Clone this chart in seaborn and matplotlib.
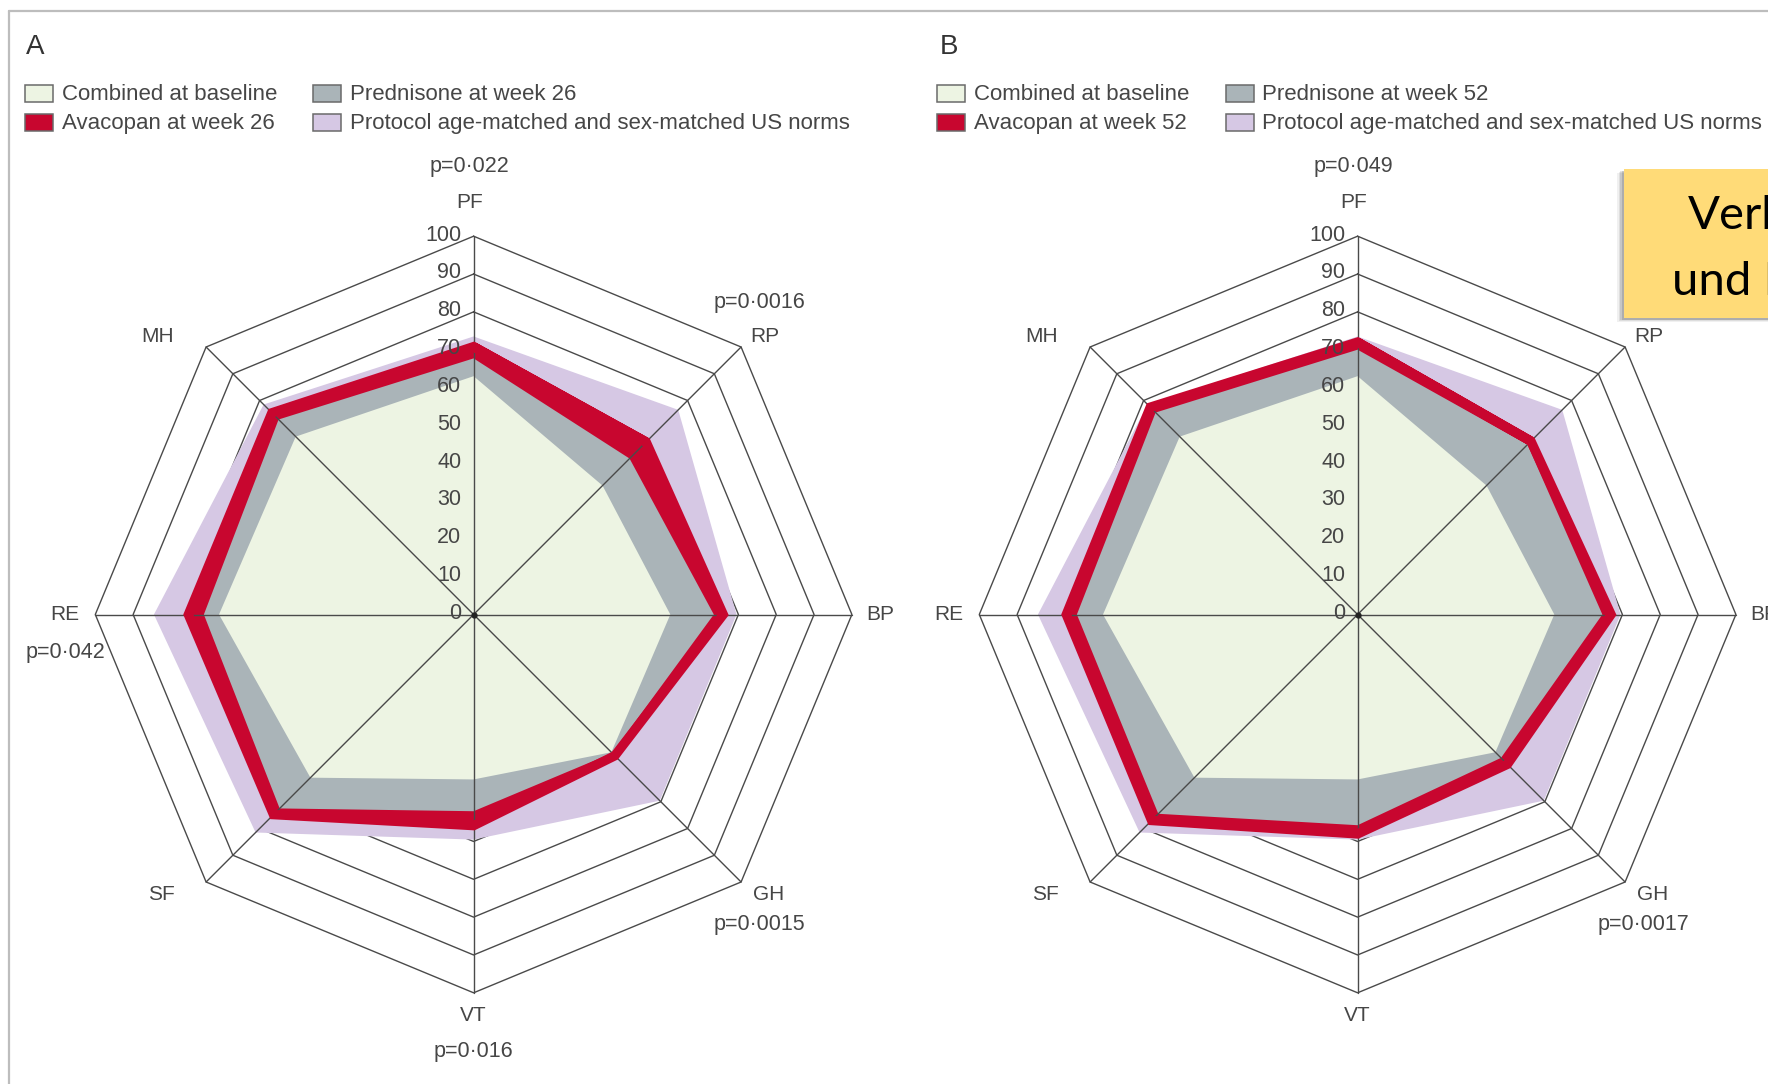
import numpy as np
import pandas as pd
import matplotlib
matplotlib.use("Agg")
import matplotlib.pyplot as plt
from matplotlib import font_manager
from matplotlib.patches import Rectangle
import seaborn as sns

# SF-36 domains, clockwise from the top
domains = ["PF", "RP", "BP", "GH", "VT", "SF", "RE", "MH"]
tick_values = [0, 10, 20, 30, 40, 50, 60, 70, 80, 90, 100]

# Domain scores (0-100)
baseline_combined = [63.0, 48.2, 52.0, 51.5, 43.6, 61.0, 67.3, 66.5]
us_norms = [73.5, 76.5, 69.5, 69.6, 59.5, 81.5, 84.5, 78.5]
avacopan_wk26 = [70.8, 64.5, 66.0, 52.8, 55.8, 74.8, 75.4, 75.4]
prednisone_wk26 = [67.7, 58.3, 63.5, 51.8, 52.0, 72.5, 71.3, 72.9]
avacopan_wk52 = [72.0, 64.8, 67.0, 56.0, 58.0, 77.0, 77.0, 77.5]
prednisone_wk52 = [70.0, 63.5, 64.7, 53.6, 55.7, 74.5, 74.2, 75.5]

pvalues_wk26 = {"PF": "p=0·022", "RP": "p=0·0016", "GH": "p=0·0015",
                "VT": "p=0·016", "RE": "p=0·042"}
pvalues_wk52 = {"PF": "p=0·049", "GH": "p=0·0017"}

panels = [
    dict(letter="A", week="26", avacopan=avacopan_wk26,
         prednisone=prednisone_wk26, pvalues=pvalues_wk26),
    dict(letter="B", week="52", avacopan=avacopan_wk52,
         prednisone=prednisone_wk52, pvalues=pvalues_wk52),
]

# ---------------------------------------------------------------- style
sns.set_theme(style="white")
available = {f.name for f in font_manager.fontManager.ttflist}
main_font = "Liberation Sans Narrow" if "Liberation Sans Narrow" in available else "Liberation Sans"
plt.rcParams["font.family"] = [main_font, "DejaVu Sans"]

C_BASE = "#EDF4E3"
C_RED = "#C8062F"
C_GREY = "#AAB4B8"
C_NORM = "#D6C8E4"
C_LINE = "#4a4a4a"
C_TEXT = "#464646"

W, H = 1768, 1084
fig = plt.figure(figsize=(W / 100, H / 100), dpi=100)
fig.patch.set_facecolor("white")

PX = 3.783          # pixels per score unit
LIM = 140
CENTERS = [(473.6, 614.5), (1357.6, 614.5)]
theta = np.deg2rad(90 - 45 * np.arange(len(domains)))

# label offsets (score units from the centre)
label_off = {"PF": (-1, 109), "RP": (77, 73.5), "BP": (107.5, 0), "GH": (78, -74),
             "VT": (0, -106), "SF": (-82.5, -74), "RE": (-108, 0), "MH": (-83.5, 73.5)}
p_off = {"PF": (-1, 118.5), "RP": (75.5, 82.5), "GH": (75.5, -82),
         "VT": (0, -115.5), "RE": (-108, -10)}


def to_xy(values):
    v = np.asarray(values, dtype=float)
    return v * np.cos(theta), v * np.sin(theta)


def draw_radar(ax, panel):
    # octagonal rings (hidden under the filled areas)
    for r in tick_values[1:]:
        x, y = to_xy([r] * len(domains))
        ax.plot(np.append(x, x[0]), np.append(y, y[0]), color=C_LINE,
                lw=1.0, zorder=1)

    for values, color, z in [(us_norms, C_NORM, 2),
                             (panel["avacopan"], C_RED, 3),
                             (panel["prednisone"], C_GREY, 4),
                             (baseline_combined, C_BASE, 5)]:
        x, y = to_xy(values)
        ax.fill(x, y, color=color, lw=0, zorder=z)

    # spokes
    xs, ys = to_xy([100] * len(domains))
    for xe, ye in zip(xs, ys):
        ax.plot([0, xe], [0, ye], color=C_LINE, lw=1.0, zorder=6)

    # avacopan outline
    x, y = to_xy(panel["avacopan"])
    outline = pd.DataFrame({"x": np.concatenate([x, x[:2]]),
                            "y": np.concatenate([y, y[:2]])})
    sns.lineplot(data=outline, x="x", y="y", sort=False, estimator=None,
                 color=C_RED, linewidth=6.8, solid_joinstyle="miter",
                 solid_capstyle="butt", zorder=7, ax=ax)
    ax.plot([0], [0], "o", color="#222222", ms=3.5, zorder=8)

    for t in tick_values:
        ax.text(-3.2, t + 0.3, str(t), ha="right", va="center", fontsize=15.5,
                color=C_TEXT, zorder=9)

    for d in domains:
        lx, ly = label_off[d]
        ax.text(lx, ly, d, ha="center", va="center", fontsize=15, color=C_TEXT)
    for d, txt in panel["pvalues"].items():
        px, py = p_off[d]
        ax.text(px, py, txt, ha="center", va="center", fontsize=15.5, color=C_TEXT)

    ax.set_xlim(-LIM, LIM)
    ax.set_ylim(-LIM, LIM)
    ax.set_axis_off()


for (cx, cy), panel in zip(CENTERS, panels):
    size = 2 * LIM * PX
    ax = fig.add_axes([(cx - LIM * PX) / W, (H - cy - LIM * PX) / H, size / W, size / H])
    ax.patch.set_alpha(0)
    draw_radar(ax, panel)

# ---------------------------------------------------------------- overlay (pixel coordinates)
ov = fig.add_axes([0, 0, 1, 1], zorder=10)
ov.set_xlim(0, W)
ov.set_ylim(H, 0)
ov.set_axis_off()
ov.patch.set_alpha(0)

# outer frame
ov.plot([9, W], [11, 11], color="#bdbdbd", lw=1.6)
ov.plot([9, 9], [11, H], color="#bdbdbd", lw=1.6)

legend_x = [(25, 312.5), (937, 1225.5)]
for panel, (x1, x2), px0 in zip(panels, legend_x, [26, 940]):
    ov.text(px0, 54, panel["letter"], fontsize=20, color="#333333", ha="left", va="baseline")
    entries = [(x1, 84.5, C_BASE, "Combined at baseline"),
               (x1, 113.5, C_RED, f"Avacopan at week {panel['week']}"),
               (x2, 84.5, C_GREY, f"Prednisone at week {panel['week']}"),
               (x2, 113.5, C_NORM, "Protocol age-matched and sex-matched US norms")]
    for bx, by, col, label in entries:
        ov.add_patch(Rectangle((bx, by), 28, 17, facecolor=col,
                               edgecolor="#6a6a6a", lw=1.1))
        ov.text(bx + 37, by + 15.5, label, fontsize=16, color=C_TEXT,
                ha="left", va="baseline")

# yellow note in the upper right corner
nx, ny, nw, nh = 1624, 169, 260, 149
for k, a in enumerate([0.06, 0.08, 0.10, 0.12]):
    off = 7 - 1.5 * k
    ov.add_patch(Rectangle((nx - off, ny + off * 0.6), nw, nh, facecolor="#000000",
                           alpha=a, lw=0))
ov.add_patch(Rectangle((nx, ny), nw, nh, facecolor="#FFDB78", lw=0))
ov.text(1688, 229, "Verbesserung", fontsize=34, family=["Lato", "DejaVu Sans"],
        color="black", ha="left", va="baseline")
ov.text(1672, 295, "und Lebensqualität", fontsize=34, family=["Lato", "DejaVu Sans"],
        color="black", ha="left", va="baseline")

fig.savefig("out.png", dpi=100)
